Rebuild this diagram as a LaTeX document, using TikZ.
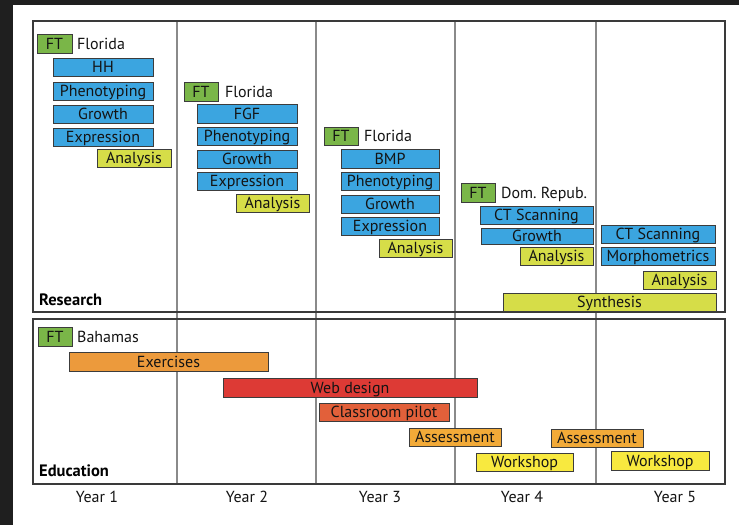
\documentclass[tikz,border=0pt]{standalone}
\usepackage{fontspec}
\setmainfont{PT Sans}
\definecolor{bgdark}{HTML}{1F1F1F}
\definecolor{frame}{HTML}{3A3A3A}
\definecolor{divc}{HTML}{8A8A8A}
\definecolor{bord}{HTML}{3C3C3C}
\definecolor{txt}{HTML}{141414}
\definecolor{ftg}{HTML}{7AB648}
\definecolor{skyb}{HTML}{3BA5E0}
\definecolor{lime}{HTML}{D6DD48}
\definecolor{exo}{HTML}{EC9A3C}
\definecolor{webr}{HTML}{DD3A35}
\definecolor{clso}{HTML}{E2603A}
\definecolor{asso}{HTML}{F2AA38}
\definecolor{worky}{HTML}{F8E93F}
\newcommand{\gbar}[7]{\node[#6, minimum width={(#4-#2)*1pt}, minimum height={(#5-#3)*1pt}] (#1) at ({(#2+#4)/2},{(#3+#5)/2}) {#7};}
\begin{document}
\begin{tikzpicture}[x=1pt,y=-1pt,
  lbl/.style={font=\fontsize{16}{18}\selectfont, text=txt, inner sep=0pt, text height=11pt, text depth=0pt},
  bar/.style={draw=bord, line width=0.9pt, inner sep=0pt, font=\fontsize{16}{18}\selectfont, text=txt, text height=11pt, text depth=0pt},
  ft/.style={bar, fill=ftg},
  blu/.style={bar, fill=skyb},
  ana/.style={bar, fill=lime},
  exer/.style={bar, fill=exo},
  web/.style={bar, fill=webr},
  cls/.style={bar, fill=clso},
  ass/.style={bar, fill=asso},
  wks/.style={bar, fill=worky},
  sect/.style={font=\fontsize{16.5}{18}\selectfont\bfseries, text=black, inner sep=0pt, anchor=west, text height=11pt, text depth=0pt},
  yr/.style={font=\fontsize{16}{18}\selectfont, text=txt, inner sep=0pt, text height=11pt, text depth=0pt},
  divl/.style={draw=divc, line width=1.1pt},
  boxl/.style={draw=frame, line width=1.5pt}]
\useasboundingbox (0,0) rectangle (739,525);
\fill[bgdark] (0,0) rectangle (739,525);
\fill[white] (13,5) rectangle (739,525);
% dividers
\foreach \xx/\nm in {177/a,316/b,455/c,596/d}{
  \coordinate (dt\nm) at (\xx,21);
  \coordinate (db\nm) at (\xx,484);
  \draw[divl] (dt\nm) -- (db\nm);
}
% section boxes
\coordinate (rtl) at (33,21); \coordinate (rbr) at (725,312);
\coordinate (etl) at (33,319); \coordinate (ebr) at (725,484);
\draw[boxl] (rtl) rectangle (rbr);
\draw[boxl] (etl) rectangle (ebr);
% Year 1
\gbar{ft1}{37}{34}{72}{53}{ft}{FT}
\node[lbl, anchor=west] (fl1) at (77,43.5) {Florida};
\gbar{hh}{53}{58}{153}{76}{blu}{HH}
\gbar{ph1}{53}{82}{153}{100}{blu}{Phenotyping}
\gbar{gr1}{53}{105}{153}{123}{blu}{Growth}
\gbar{ex1}{53}{128}{153}{146}{blu}{Expression}
\gbar{an1}{97}{149}{171}{167}{ana}{Analysis}
% Year 2
\gbar{ft2}{184}{82}{218}{101}{ft}{FT}
\node[lbl, anchor=west] (fl2) at (225,91.5) {Florida};
\gbar{fgf}{197}{104}{297}{123}{blu}{FGF}
\gbar{ph2}{197}{127}{297}{145}{blu}{Phenotyping}
\gbar{gr2}{197}{150}{297}{168}{blu}{Growth}
\gbar{ex2}{197}{172}{297}{190}{blu}{Expression}
\gbar{an2}{236}{194}{309}{212}{ana}{Analysis}
% Year 3
\gbar{ft3}{324}{127}{358}{145}{ft}{FT}
\node[lbl, anchor=west] (fl3) at (364,136) {Florida};
\gbar{bmp}{341}{149}{439}{168}{blu}{BMP}
\gbar{ph3}{341}{172}{439}{190}{blu}{Phenotyping}
\gbar{gr3}{341}{195}{439}{213}{blu}{Growth}
\gbar{ex3}{341}{217}{439}{235}{blu}{Expression}
\gbar{an3}{379}{239}{452}{257}{ana}{Analysis}
% Year 4
\gbar{ft4}{461}{183}{495}{202}{ft}{FT}
\node[lbl, anchor=west] (dr4) at (501,192.5) {Dom.\ Repub.};
\gbar{ct4}{480}{206}{593}{224}{blu}{CT Scanning}
\gbar{gr4}{481}{228}{593}{244}{blu}{Growth}
\gbar{an4}{520}{247}{593}{265}{ana}{Analysis}
% Year 5
\gbar{ct5}{601}{225}{715}{243}{blu}{CT Scanning}
\gbar{mo5}{601}{247}{715}{265}{blu}{Morphometrics}
\gbar{an5}{643}{271}{716}{289}{ana}{Analysis}
\gbar{syn}{503}{293}{716}{311}{ana}{Synthesis}
\node[sect] (research) at (39,300) {Research};
% Education
\gbar{ftb}{38}{327}{72}{346}{ft}{FT}
\node[lbl, anchor=west] (bah) at (77,336.5) {Bahamas};
\gbar{exer}{69}{352}{268}{371}{exer}{Exercises}
\gbar{webd}{223}{378}{477}{397}{web}{Web design}
\gbar{clsp}{319}{403}{449}{421}{cls}{Classroom pilot}
\gbar{as1}{409}{428}{501}{446}{ass}{Assessment}
\gbar{as2}{551}{429}{643}{447}{ass}{Assessment}
\gbar{ws1}{476}{453}{573}{471}{wks}{Workshop}
\gbar{ws2}{611}{451}{709}{470}{wks}{Workshop}
\node[sect] (education) at (39,471) {Education};
% Years
\node[yr] (y1) at (97,497) {Year 1};
\node[yr] (y2) at (247,497) {Year 2};
\node[yr] (y3) at (380,497) {Year 3};
\node[yr] (y4) at (522,497) {Year 4};
\node[yr] (y5) at (675,497) {Year 5};
\end{tikzpicture}
\end{document}
